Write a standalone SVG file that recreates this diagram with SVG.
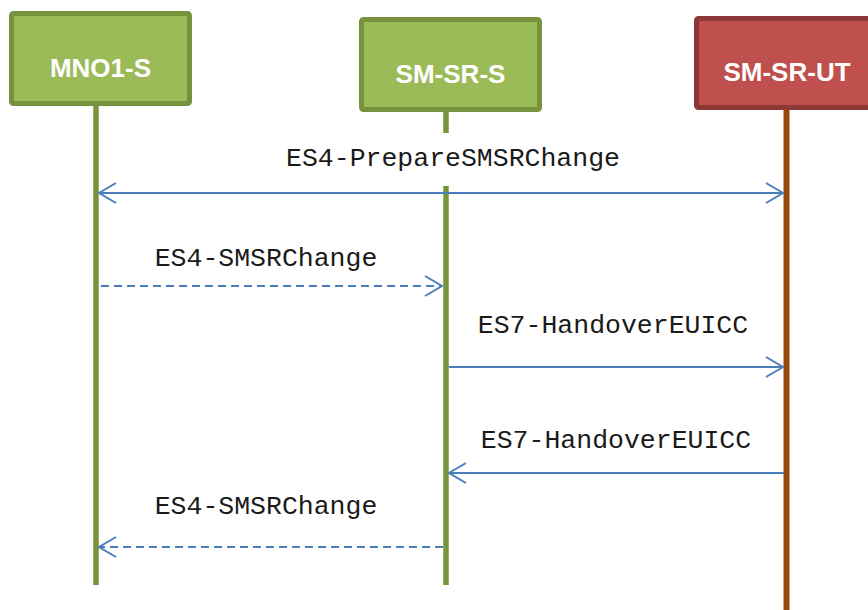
<svg xmlns="http://www.w3.org/2000/svg" width="868" height="610" viewBox="0 0 868 610">
<style>
.green rect{fill:#9BBB59;stroke:#76923C;stroke-width:5}
.red rect{fill:#C0504D;stroke:#8C3836;stroke-width:5}
.title{font-family:"Liberation Sans",Arial,sans-serif;font-weight:bold;font-size:26px;fill:#FFFFFF;text-anchor:middle}
.lifeG{stroke:#77933C;stroke-width:5.5;fill:none}
.lifeR{stroke:#984807;stroke-width:6;fill:none}
.msg{stroke:#4A7EBB;stroke-width:2;fill:none}
.dash{stroke-dasharray:8 5}
.lbl{font-family:"Liberation Mono","Courier New",monospace;font-size:26.5px;fill:#1A1A1A;text-anchor:middle}
</style>
<defs>
<marker id="ah" markerUnits="userSpaceOnUse" markerWidth="24" markerHeight="24" viewBox="-20 -12 24 24" refX="0" refY="0" orient="auto-start-reverse">
<path d="M-17,-10 L0,0 L-17,10" fill="none" stroke="#4A7EBB" stroke-width="2"/>
</marker>
</defs>
<g id="lifelines">
<line class="lifeG" x1="96" y1="106" x2="96" y2="585"/>
<line class="lifeG" x1="446" y1="112" x2="446" y2="133"/>
<line class="lifeG" x1="446" y1="186" x2="446" y2="585"/>
<line class="lifeR" x1="786.5" y1="110" x2="786.5" y2="610"/>
</g>
<g id="MNO1-S" class="green">
<rect x="11.5" y="13.5" width="178" height="90" rx="2"/>
<text class="title" x="100.5" y="77">MNO1-S</text>
</g>
<g id="SM-SR-S" class="green">
<rect x="361.5" y="19.5" width="178" height="90" rx="2"/>
<text class="title" x="450.5" y="83">SM-SR-S</text>
</g>
<g id="SM-SR-UT" class="red">
<rect x="696.5" y="18.5" width="178" height="89" rx="2"/>
<text class="title" x="787" y="81">SM-SR-UT</text>
</g>
<g id="connectors">
<line class="msg" x1="99" y1="193" x2="783" y2="193" marker-start="url(#ah)" marker-end="url(#ah)"/>
<line class="msg dash" x1="101" y1="286" x2="442" y2="286" marker-end="url(#ah)"/>
<line class="msg" x1="449" y1="367" x2="783" y2="367" marker-end="url(#ah)"/>
<line class="msg" x1="784" y1="473" x2="449" y2="473" marker-end="url(#ah)"/>
<line class="msg dash" x1="443" y1="547" x2="99" y2="547" marker-end="url(#ah)"/>
</g>
<g id="labels">
<text class="lbl" x="453" y="166">ES4-PrepareSMSRChange</text>
<text class="lbl" x="266" y="266">ES4-SMSRChange</text>
<text class="lbl" x="613" y="333">ES7-HandoverEUICC</text>
<text class="lbl" x="616" y="448">ES7-HandoverEUICC</text>
<text class="lbl" x="266" y="514">ES4-SMSRChange</text>
</g>
</svg>
